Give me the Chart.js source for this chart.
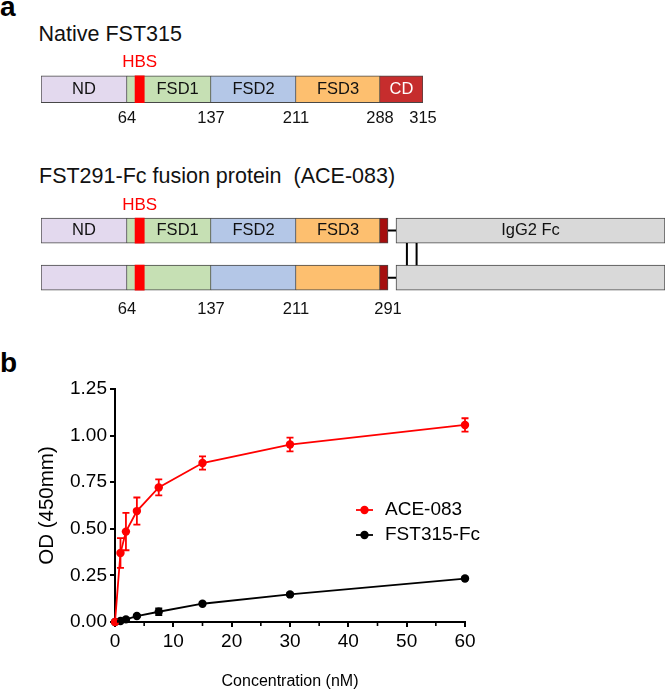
<!DOCTYPE html>
<html>
<head>
<meta charset="utf-8">
<title>FST315 / ACE-083</title>
<script src="https://cdn.jsdelivr.net/npm/chart.js@4.4.1/dist/chart.umd.min.js"></script>
<style>
  body { margin: 0; background: #fff; }
  #figure { position: relative; width: 666px; height: 693px; overflow: hidden;
            font-family: "Liberation Sans", Arial, sans-serif; color: #000; }
  .label { position: absolute; white-space: pre; line-height: 1; }
  .panel { font-size: 28px; font-weight: bold; }
  .heading { font-size: 21.5px; color: #111; }
  canvas { position: absolute; left: 0; }
</style>
</head>
<body>
<div id="figure">
  <div class="label panel" style="left:0; top:-7px">a</div>
  <div class="label heading" style="left:38.5px; top:24px">Native FST315</div>
  <div class="label heading" style="left:39px; top:166px">FST291-Fc fusion protein  (ACE-083)</div>
  <div class="label panel" style="left:0; top:349px">b</div>
  <canvas id="nativeChart" width="666" height="92" style="top:40px"></canvas>
  <canvas id="fusionChart" width="666" height="127" style="top:190px"></canvas>
  <canvas id="bindingChart" width="666" height="328" style="top:365px"></canvas>
</div>
<script>
// panel a - domain boundaries, in residue numbers
const nativeNames = ['ND', 'FSD1', 'FSD2', 'FSD3', 'CD'];
const nativeStarts = [1, 64, 137, 211, 288];
const nativeEnds = [64, 137, 211, 288, 315];
const nativeTicks = [64, 137, 211, 288, 315];

const fusionNames = ['ND', 'FSD1', 'FSD2', 'FSD3', 'hinge', 'IgG2 Fc'];
const fusionStarts = [1, 64, 137, 211, 288, 296];
const fusionEnds = [64, 137, 211, 288, 291, 518];
const fusionTicks = [64, 137, 211, 291];
const fusionChains = ['chain 1', 'chain 2'];

const hbsRange = [71, 79];
const linkerRange = [291, 296];
const disulfides = [305, 313];

// panel b - binding curves
const concentrations = [0, 0.9375, 1.875, 3.75, 7.5, 15, 30, 60];
const aceMean = [0, 0.37, 0.485, 0.595, 0.722, 0.853, 0.952, 1.057];
const aceSd = [0, 0.08, 0.10, 0.073, 0.043, 0.036, 0.037, 0.036];
const fcMean = [0, 0.005, 0.014, 0.032, 0.055, 0.098, 0.148, 0.233];
const fcSd = [0, 0.004, 0.005, 0.006, 0.018, 0.006, 0.006, 0.005];
const odTicks = [0, 0.25, 0.5, 0.75, 1.0, 1.25];

const FONT = '"Liberation Sans", Arial, sans-serif';
Chart.defaults.font.family = FONT;
Chart.defaults.color = '#000';

const domainFill = {
  ND: '#E3D9EE', FSD1: '#C6E0B4', FSD2: '#B4C7E7', FSD3: '#FDBF6F',
  CD: '#C62D2D', hinge: '#A50F0F', 'IgG2 Fc': '#D9D9D9'
};
const domainText = { CD: '#fff' };

// the diagram is schematic: each residue span gets its own drawn width
class SchematicScale extends Chart.LinearScale {
  static id = 'schematic';
  static defaults = Chart.LinearScale.defaults;

  toDecimal(value) {
    const anchors = this.options.anchors;
    const widths = this.options.widths;
    const total = widths.reduce((a, b) => a + b, 0);
    let u = 0;
    for (let i = 0; i < widths.length; i++) {
      const a0 = anchors[i], a1 = anchors[i + 1];
      if (value <= a1 || i === widths.length - 1) {
        u += widths[i] * (value - a0) / (a1 - a0);
        break;
      }
      u += widths[i];
    }
    return u / total;
  }

  getPixelForValue(value) {
    return value === null ? NaN : this.getPixelForDecimal(this.toDecimal(value));
  }
}
Chart.register(SchematicScale);

const domainLabels = {
  id: 'domainLabels',
  afterDatasetsDraw(chart) {
    const { ctx, scales: { x } } = chart;
    const hbsEnd = x.getPixelForValue(hbsRange[1]);
    ctx.save();
    ctx.textAlign = 'center';
    ctx.textBaseline = 'middle';
    chart.data.datasets.forEach((ds, i) => {
      const bar = chart.getDatasetMeta(i).data[0];
      if (ds.label === 'HBS') {
        ctx.fillStyle = '#FF0000';
        ctx.font = '17px ' + FONT;
        ctx.fillText('HBS', (bar.x + bar.base) / 2, bar.y - bar.height / 2 - 13);
        return;
      }
      if (ds.label === 'hinge') return;
      let left = bar.base;
      if (hbsEnd > left && hbsEnd < bar.x) left = hbsEnd;
      ctx.fillStyle = domainText[ds.label] || '#111';
      ctx.font = '16.5px ' + FONT;
      ctx.fillText(ds.label, (left + bar.x) / 2, bar.y);
    });
    ctx.restore();
  }
};

const fcLinks = {
  id: 'fcLinks',
  afterDatasetsDraw(chart) {
    const { ctx, scales: { x } } = chart;
    const idx = chart.data.datasets.findIndex((ds) => ds.label === 'hinge');
    const bars = chart.getDatasetMeta(idx).data;
    ctx.save();
    ctx.strokeStyle = '#000';
    ctx.lineWidth = 2;
    ctx.beginPath();
    bars.forEach((bar) => {
      ctx.moveTo(x.getPixelForValue(linkerRange[0]), bar.y);
      ctx.lineTo(x.getPixelForValue(linkerRange[1]), bar.y);
    });
    const top = bars[0].y + bars[0].height / 2;
    const bottom = bars[1].y - bars[1].height / 2;
    disulfides.forEach((r) => {
      const px = x.getPixelForValue(r);
      ctx.moveTo(px, top);
      ctx.lineTo(px, bottom);
    });
    ctx.stroke();
    ctx.restore();
  }
};

function drawDiagram(canvasId, rows, names, starts, ends, ticks, axis, extra) {
  const datasets = names.map((name, i) => ({
    label: name,
    data: rows.map(() => [starts[i], ends[i]]),
    backgroundColor: domainFill[name],
    borderColor: '#474747',
    borderWidth: 1,
    borderSkipped: i > 0 && starts[i] === ends[i - 1] ? 'start' : false,
    grouped: false,
    barThickness: axis.thickness,
    order: 2
  }));
  datasets.unshift({
    label: 'HBS',
    data: rows.map(() => hbsRange),
    backgroundColor: '#FF0000',
    borderWidth: 0,
    grouped: false,
    barThickness: axis.thickness,
    order: 1
  });

  return new Chart(document.getElementById(canvasId), {
    type: 'bar',
    data: { labels: rows, datasets: datasets },
    options: {
      indexAxis: 'y',
      responsive: false,
      animation: false,
      events: [],
      layout: { padding: axis.padding },
      plugins: { legend: { display: false }, tooltip: { enabled: false } },
      scales: {
        y: { display: false },
        x: {
          type: 'schematic',
          anchors: axis.anchors,
          widths: axis.widths,
          min: axis.anchors[0],
          max: axis.anchors[axis.anchors.length - 1],
          grid: { display: false, drawTicks: false },
          border: { display: false },
          afterBuildTicks: (scale) => {
            scale.ticks = ticks.map((v) => ({ value: v }));
          },
          ticks: {
            autoSkip: false,
            maxRotation: 0,
            padding: axis.tickPadding,
            color: '#111',
            font: { size: 16.5 },
            callback: (v) => String(v)
          }
        }
      }
    },
    plugins: [domainLabels].concat(extra || [])
  });
}

drawDiagram('nativeChart', ['native'], nativeNames, nativeStarts, nativeEnds, nativeTicks, {
  anchors: [1, 64, 137, 211, 288, 315],
  widths: [86, 84, 85, 84, 43],
  padding: { top: 35, left: 41, right: 243, bottom: 0 },
  thickness: 27,
  tickPadding: 5
});

drawDiagram('fusionChart', fusionChains, fusionNames, fusionStarts, fusionEnds, fusionTicks, {
  anchors: [1, 64, 137, 211, 288, 291, 296, 518],
  widths: [86, 84, 85, 84, 8, 8, 269],
  padding: { top: 17, left: 41, right: 1, bottom: 0 },
  thickness: 25,
  tickPadding: -2
}, [fcLinks]);

// panel b helpers
const errorBars = {
  id: 'errorBars',
  afterDatasetsDraw(chart) {
    const { ctx, scales: { x, y } } = chart;
    chart.data.datasets.forEach((ds) => {
      ctx.save();
      ctx.strokeStyle = ds.borderColor;
      ctx.lineWidth = 1.8;
      ctx.beginPath();
      ds.data.forEach((p, j) => {
        const e = ds.errors[j];
        if (!e) return;
        const px = x.getPixelForValue(p.x);
        const hi = y.getPixelForValue(p.y + e);
        const lo = y.getPixelForValue(p.y - e);
        ctx.moveTo(px, hi); ctx.lineTo(px, lo);
        ctx.moveTo(px - 3.5, hi); ctx.lineTo(px + 3.5, hi);
        ctx.moveTo(px - 3.5, lo); ctx.lineTo(px + 3.5, lo);
      });
      ctx.stroke();
      ctx.restore();
    });
  }
};

const minorTicks = {
  id: 'minorTicks',
  afterDraw(chart, args, opts) {
    const { ctx, scales: { x }, chartArea } = chart;
    ctx.save();
    ctx.strokeStyle = '#000';
    ctx.lineWidth = 1.6;
    ctx.beginPath();
    for (let v = opts.step; v < x.max; v += 2 * opts.step) {
      const px = x.getPixelForValue(v);
      ctx.moveTo(px, chartArea.bottom);
      ctx.lineTo(px, chartArea.bottom + 4);
    }
    ctx.stroke();
    ctx.restore();
  }
};

const seriesKey = {
  id: 'seriesKey',
  afterDraw(chart, args, opts) {
    const { ctx, chartArea } = chart;
    ctx.save();
    ctx.font = '19px ' + FONT;
    ctx.textBaseline = 'middle';
    chart.data.datasets.forEach((ds, i) => {
      const x0 = chartArea.left + opts.left;
      const y0 = chartArea.top + opts.top + i * opts.gap;
      ctx.strokeStyle = ds.borderColor;
      ctx.lineWidth = 1.8;
      ctx.beginPath();
      ctx.moveTo(x0, y0);
      ctx.lineTo(x0 + 17, y0);
      ctx.stroke();
      ctx.fillStyle = ds.borderColor;
      ctx.beginPath();
      ctx.arc(x0 + 8.5, y0, 4.2, 0, Math.PI * 2);
      ctx.fill();
      ctx.fillStyle = '#000';
      ctx.fillText(ds.label, x0 + 29, y0);
    });
    ctx.restore();
  }
};

const lineStyle = {
  borderWidth: 1.8,
  pointRadius: 4.2,
  pointBorderWidth: 0,
  tension: 0,
  clip: false
};

new Chart(document.getElementById('bindingChart'), {
  type: 'line',
  data: {
    datasets: [
      Object.assign({
        label: 'ACE-083',
        data: concentrations.map((c, i) => ({ x: c, y: aceMean[i] })),
        errors: aceSd,
        borderColor: '#FF0000',
        backgroundColor: '#FF0000',
        pointBackgroundColor: '#FF0000'
      }, lineStyle),
      Object.assign({
        label: 'FST315-Fc',
        data: concentrations.map((c, i) => ({ x: c, y: fcMean[i] })),
        errors: fcSd,
        borderColor: '#000000',
        backgroundColor: '#000000',
        pointBackgroundColor: '#000000'
      }, lineStyle)
    ]
  },
  options: {
    responsive: false,
    animation: false,
    events: [],
    layout: { padding: { top: 24, right: 201, left: 0, bottom: 0 } },
    plugins: {
      legend: { display: false },
      tooltip: { enabled: false },
      minorTicks: { step: 5 },
      seriesKey: { left: 241, top: 121, gap: 25 }
    },
    scales: {
      x: {
        type: 'linear',
        min: 0,
        max: 60,
        afterFit: (scale) => { scale.height = 71; },
        grid: { drawOnChartArea: false, drawTicks: true, tickLength: 5, color: '#000', lineWidth: 2 },
        border: { color: '#000', width: 2 },
        ticks: { stepSize: 10, padding: 3, color: '#000', font: { size: 19 } },
        title: {
          display: true,
          text: 'Concentration (nM)',
          color: '#000',
          font: { size: 16 },
          padding: { top: 0, bottom: 1.4 }
        }
      },
      y: {
        min: 0,
        max: 1.25,
        afterFit: (scale) => { scale.width = 115; },
        afterBuildTicks: (scale) => {
          scale.ticks = odTicks.map((v) => ({ value: v }));
        },
        grid: { drawOnChartArea: false, drawTicks: true, tickLength: 5, color: '#000', lineWidth: 2 },
        border: { color: '#000', width: 2 },
        ticks: { padding: 3, color: '#000', font: { size: 19 }, callback: (v) => v.toFixed(2) },
        title: {
          display: true,
          text: 'OD (450mm)',
          color: '#000',
          font: { size: 20.5 },
          padding: { top: 35, bottom: 0 }
        }
      }
    }
  },
  plugins: [errorBars, minorTicks, seriesKey]
});
</script>
</body>
</html>
